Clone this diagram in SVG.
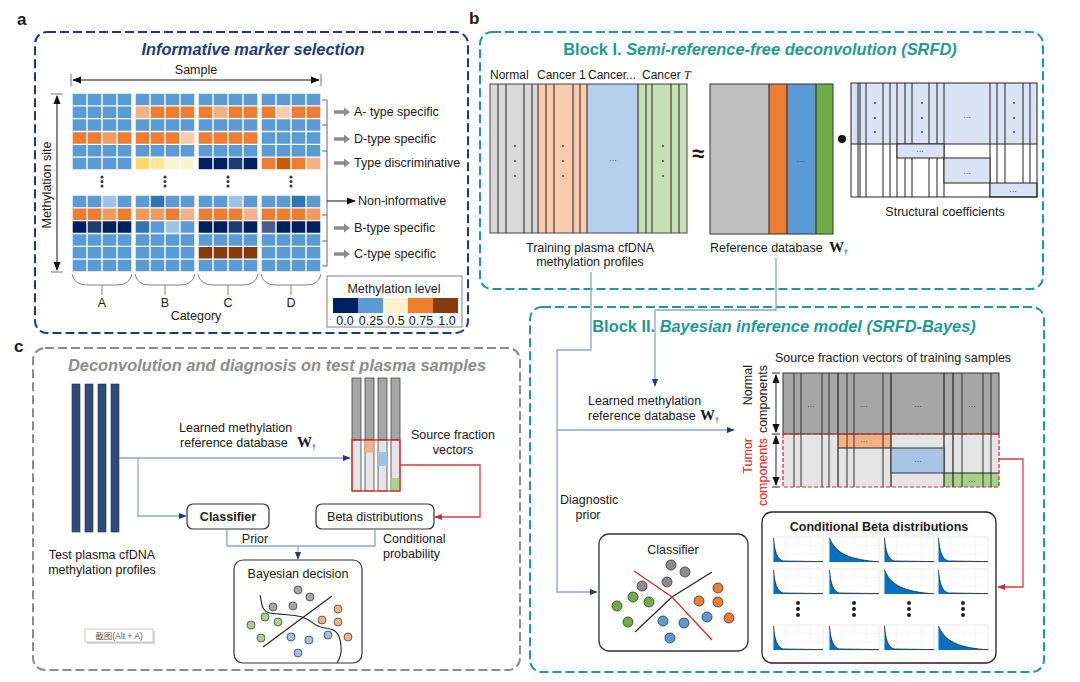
<svg xmlns="http://www.w3.org/2000/svg" xmlns:xlink="http://www.w3.org/1999/xlink" width="1080" height="682" viewBox="0 0 1080 682">
<style>
text{font-family:'Liberation Sans',Arial,'Noto Sans CJK SC',sans-serif;fill:#1a1a1a}
.f12{font-size:12.5px}
.f11{font-size:12px}
.mid{text-anchor:middle}
.bold{font-weight:bold}
.ttl{font-size:16.4px;font-weight:bold}
.teal{fill:#1E9A93}
.wt{font-family:'Liberation Serif','Times New Roman',serif;font-weight:bold;font-size:15px}
.dag{font-size:8px;font-weight:normal}
.conn{fill:none;stroke:#8EA5CC;stroke-width:1.3}
.red{fill:none;stroke:#E03A3A;stroke-width:1.3}
.ln{stroke:#222;stroke-width:1}
.dots{fill:#333}
.cg{fill:#8C8C8C;stroke:#333;stroke-width:0.8}
.cgr{fill:#70AD47;stroke:#333;stroke-width:0.8}
.cb{fill:#5B9BD5;stroke:#333;stroke-width:0.8}
.co{fill:#ED7D31;stroke:#333;stroke-width:0.8}
.lg{fill:#A6A6A6;stroke:#444;stroke-width:0.8}
.lgr{fill:#A9D18E;stroke:#444;stroke-width:0.8}
.lb{fill:#9DC3E6;stroke:#444;stroke-width:0.8}
.lo{fill:#F4B183;stroke:#444;stroke-width:0.8}
</style>
<defs>
<marker id="an" viewBox="0 0 10 10" refX="9" refY="5" markerWidth="8" markerHeight="8" markerUnits="userSpaceOnUse" orient="auto"><path d="M0,1 L10,5 L0,9 z" fill="#1F3A7A"/></marker>
<marker id="ar" viewBox="0 0 10 10" refX="9" refY="5" markerWidth="8" markerHeight="8" markerUnits="userSpaceOnUse" orient="auto"><path d="M0,1 L10,5 L0,9 z" fill="#D42A2A"/></marker>
<marker id="ak" viewBox="0 0 10 10" refX="9" refY="5" markerWidth="9" markerHeight="9" markerUnits="userSpaceOnUse" orient="auto-start-reverse"><path d="M0,1 L10,5 L0,9 z" fill="#111"/></marker>
<path id="garrow" d="M0,-1.8 L10,-1.8 L10,-4.5 L16,0 L10,4.5 L10,1.8 L0,1.8 Z" fill="#8C8C8C"/>
<symbol id="bf" viewBox="0 0 50 25" overflow="visible">
<rect x="0" y="0" width="50" height="25" fill="#fff" stroke="#D9D9D9" stroke-width="0.6"/>
<path d="M12.5 0V25M25 0V25M37.5 0V25M0 8.3H50M0 16.6H50" stroke="#EEEEEE" stroke-width="0.5"/>
<path d="M0.5 1 C1.5 14 4 22 10 24 L50 24.6 L50 25 L0.5 25Z" fill="#0070C0"/>
<path d="M0.5 1 C1.5 14 4 22 10 24 L50 24.6" fill="none" stroke="#222" stroke-width="0.8"/>
</symbol>
<symbol id="bs" viewBox="0 0 50 25" overflow="visible">
<rect x="0" y="0" width="50" height="25" fill="#fff" stroke="#D9D9D9" stroke-width="0.6"/>
<path d="M12.5 0V25M25 0V25M37.5 0V25M0 8.3H50M0 16.6H50" stroke="#EEEEEE" stroke-width="0.5"/>
<path d="M0.5 1 C6 14 16 22 46 24.5 L50 24.7 L50 25 L0.5 25Z" fill="#0070C0"/>
<path d="M0.5 1 C6 14 16 22 46 24.5 L50 24.7" fill="none" stroke="#222" stroke-width="0.8"/>
</symbol>
</defs>
<rect width="1080" height="682" fill="#fff"/>

<!-- panel labels -->
<text x="17" y="25" class="bold" font-size="17">a</text>
<text x="469" y="24" class="bold" font-size="17">b</text>
<text x="14" y="352" class="bold" font-size="17">c</text>

<!-- ========== Panel a ========== -->
<g id="panel-a">
<rect x="35" y="32" width="433" height="301" rx="12" fill="none" stroke="#1F3A7A" stroke-width="2" stroke-dasharray="9 4"/>
<text x="253" y="55" class="mid ttl" font-style="italic" style="fill:#1F3A7A">Informative marker selection</text>
<text x="196" y="74" class="mid f12">Sample</text>
<line x1="73" y1="80" x2="319" y2="80" stroke="#111" stroke-width="1" marker-start="url(#ak)" marker-end="url(#ak)"/>
<path d="M71 74V86M321 74V86" stroke="#777" stroke-width="1"/>
<line x1="57" y1="96" x2="57" y2="270" stroke="#111" stroke-width="1" marker-start="url(#ak)" marker-end="url(#ak)"/>
<path d="M51 94H63M51 272H63" stroke="#777" stroke-width="1"/>
<text x="51" y="185" class="mid f12" transform="rotate(-90 51 185)">Methylation site</text>

<g id="heatmap">
<g fill="#5B9BD5">
<rect x="72" y="93" width="60" height="77"/><rect x="135" y="93" width="60" height="77"/><rect x="198" y="93" width="60" height="77"/><rect x="261" y="93" width="60" height="77"/>
<rect x="72" y="195" width="60" height="77"/><rect x="135" y="195" width="60" height="77"/><rect x="198" y="195" width="60" height="77"/><rect x="261" y="195" width="60" height="77"/>
</g>
<g fill="#ED7D31">
<rect x="135" y="105.83" width="60" height="12.84"/><rect x="198" y="105.83" width="60" height="12.84"/><rect x="261" y="105.83" width="60" height="12.84"/>
<rect x="72" y="131.5" width="60" height="12.84"/><rect x="135" y="131.5" width="60" height="12.84"/><rect x="198" y="131.5" width="60" height="12.84"/>
<rect x="261" y="157.17" width="60" height="12.83"/>
<rect x="72" y="207.83" width="60" height="12.84"/><rect x="135" y="207.83" width="60" height="12.84"/><rect x="198" y="207.83" width="60" height="12.84"/><rect x="261" y="207.83" width="60" height="12.84"/>
</g>
<rect x="135" y="105.83" width="15" height="12.84" fill="#F4B183"/>
<rect x="213" y="105.83" width="15" height="12.84" fill="#F4B183"/>
<rect x="276" y="105.83" width="15" height="12.84" fill="#F8CBAD"/>
<rect x="102" y="131.5" width="15" height="12.84" fill="#F19A5B"/>
<rect x="180" y="131.5" width="15" height="12.84" fill="#F8CBAD"/>
<rect x="135" y="157.17" width="15" height="12.83" fill="#FFD966"/>
<rect x="150" y="157.17" width="15" height="12.83" fill="#FFE699"/>
<rect x="165" y="157.17" width="30" height="12.83" fill="#FFF2CC"/>
<rect x="198" y="157.17" width="60" height="12.83" fill="#002060"/>
<rect x="228" y="157.17" width="15" height="12.83" fill="#1F3B73"/>
<rect x="276" y="157.17" width="15" height="12.83" fill="#C55A11"/>
<rect x="306" y="157.17" width="15" height="12.83" fill="#F4B183"/>
<rect x="102" y="195" width="15" height="12.83" fill="#9DC3E6"/>
<rect x="150" y="195" width="15" height="12.83" fill="#2E75B6"/>
<rect x="228" y="195" width="15" height="12.83" fill="#9DC3E6"/>
<rect x="291" y="195" width="15" height="12.83" fill="#2E75B6"/>
<rect x="102" y="207.83" width="15" height="12.84" fill="#F19A5B"/>
<rect x="135" y="207.83" width="30" height="12.84" fill="#F19A5B"/>
<rect x="180" y="207.83" width="15" height="12.84" fill="#F4B183"/>
<rect x="243" y="207.83" width="15" height="12.84" fill="#F4B183"/>
<rect x="306" y="207.83" width="15" height="12.84" fill="#F19A5B"/>
<rect x="72" y="220.67" width="60" height="12.83" fill="#002060"/>
<rect x="87" y="220.67" width="15" height="12.83" fill="#1F3B73"/>
<rect x="135" y="220.67" width="15" height="12.83" fill="#2E75B6"/>
<rect x="165" y="220.67" width="15" height="12.83" fill="#9DC3E6"/>
<rect x="198" y="220.67" width="60" height="12.83" fill="#002060"/>
<rect x="228" y="220.67" width="15" height="12.83" fill="#1F3B73"/>
<rect x="261" y="220.67" width="60" height="12.83" fill="#002060"/>
<rect x="261" y="220.67" width="15" height="12.83" fill="#4A5C8C"/>
<rect x="198" y="246.33" width="60" height="12.84" fill="#843C0C"/>
<path d="M72 93V170M87 93V170M102 93V170M117 93V170M132 93V170M135 93V170M150 93V170M165 93V170M180 93V170M195 93V170M198 93V170M213 93V170M228 93V170M243 93V170M258 93V170M261 93V170M276 93V170M291 93V170M306 93V170M321 93V170M72 195V272M87 195V272M102 195V272M117 195V272M132 195V272M135 195V272M150 195V272M165 195V272M180 195V272M195 195V272M198 195V272M213 195V272M228 195V272M243 195V272M258 195V272M261 195V272M276 195V272M291 195V272M306 195V272M321 195V272M72 93H321M72 105.83H321M72 118.67H321M72 131.5H321M72 144.33H321M72 157.17H321M72 170H321M72 195H321M72 207.83H321M72 220.67H321M72 233.5H321M72 246.33H321M72 259.17H321M72 272H321" stroke="#fff" stroke-width="1.4" fill="none"/>
<g class="dots">
<circle cx="102" cy="177" r="1.5"/><circle cx="102" cy="181.5" r="1.5"/><circle cx="102" cy="186" r="1.5"/>
<circle cx="165" cy="177" r="1.5"/><circle cx="165" cy="181.5" r="1.5"/><circle cx="165" cy="186" r="1.5"/>
<circle cx="228" cy="177" r="1.5"/><circle cx="228" cy="181.5" r="1.5"/><circle cx="228" cy="186" r="1.5"/>
<circle cx="291" cy="177" r="1.5"/><circle cx="291" cy="181.5" r="1.5"/><circle cx="291" cy="186" r="1.5"/>
</g>
</g>

<path d="M72 274Q74 285 87 285H117Q130 285 132 274M102 285V295M135 274Q137 285 150 285H180Q193 285 195 274M165 285V295M198 274Q200 285 213 285H243Q256 285 258 274M228 285V295M261 274Q263 285 276 285H306Q319 285 321 274M291 285V295" fill="none" stroke="#808080" stroke-width="1"/>
<text x="102" y="307" class="mid f12">A</text>
<text x="165" y="307" class="mid f12">B</text>
<text x="228" y="307" class="mid f12">C</text>
<text x="291" y="307" class="mid f12">D</text>
<text x="196" y="320" class="mid f12">Category</text>

<path d="M322 100H327V266H322M322 125H327M322 151H327M322 215H327M322 241H327" fill="none" stroke="#666" stroke-width="1"/>
<line x1="327" y1="201" x2="355" y2="201" stroke="#111" stroke-width="1" marker-end="url(#ak)"/>
<use href="#garrow" x="334" y="112"/>
<use href="#garrow" x="334" y="139"/>
<use href="#garrow" x="334" y="163"/>
<use href="#garrow" x="334" y="228"/>
<use href="#garrow" x="334" y="254"/>
<text x="354" y="116" class="f12">A- type specific</text>
<text x="354" y="143" class="f12">D-type specific</text>
<text x="354" y="167" class="f12">Type discriminative</text>
<text x="358" y="205" class="f12">Non-informative</text>
<text x="354" y="232" class="f12">B-type specific</text>
<text x="354" y="258" class="f12">C-type specific</text>

<g id="legend">
<rect x="327" y="276" width="135" height="51" fill="#fff" stroke="#808080" stroke-width="1"/>
<text x="394" y="293" class="mid f12">Methylation level</text>
<rect x="333" y="298" width="25" height="15" fill="#002060"/>
<rect x="358" y="298" width="25" height="15" fill="#5B9BD5"/>
<rect x="383" y="298" width="25" height="15" fill="#FFF2CC"/>
<rect x="408" y="298" width="25" height="15" fill="#ED7D31"/>
<rect x="433" y="298" width="25" height="15" fill="#843C0C"/>
<text x="345" y="325" class="mid f12">0.0</text>
<text x="371" y="325" class="mid f12">0.25</text>
<text x="396" y="325" class="mid f12">0.5</text>
<text x="421" y="325" class="mid f12">0.75</text>
<text x="447" y="325" class="mid f12">1.0</text>
</g>
</g>

<!-- ========== Block I ========== -->
<g id="block-1">
<rect x="480" y="32" width="563" height="257" rx="12" fill="none" stroke="#1E9A93" stroke-width="2" stroke-dasharray="9 4"/>
<text x="760" y="55" class="mid ttl teal">Block I. <tspan font-style="italic">Semi-reference-free deconvolution (SRFD)</tspan></text>
<text x="490" y="79" class="f11">Normal</text>
<text x="537" y="79" class="f11">Cancer 1</text>
<text x="588" y="79" class="f11">Cancer...</text>
<text x="642" y="79" class="f11">Cancer <tspan font-family="'Liberation Serif',serif" font-style="italic">T</tspan></text>
</g>
<g id="training-matrix">
<rect x="490" y="84" width="48" height="149" fill="#D9D9D9"/>
<rect x="538" y="84" width="49" height="149" fill="#F8CBAD"/>
<rect x="587" y="84" width="51" height="149" fill="#B4CFEC"/>
<rect x="638" y="84" width="49" height="149" fill="#C5E0B4"/>
<path d="M498 84V233M506 84V233M524 84V233M532 84V233M538 84V233M546 84V233M554 84V233M573 84V233M580 84V233M587 84V233M638 84V233M646 84V233M652 84V233M671 84V233M679 84V233" class="ln"/>
<rect x="490" y="84" width="197" height="149" fill="none" stroke="#444" stroke-width="1"/>
<g class="dots">
<circle cx="515" cy="146" r="0.9"/><circle cx="515" cy="161" r="0.9"/><circle cx="515" cy="176" r="0.9"/>
<circle cx="563" cy="146" r="0.9"/><circle cx="563" cy="161" r="0.9"/><circle cx="563" cy="176" r="0.9"/>
<circle cx="663" cy="146" r="0.9"/><circle cx="663" cy="161" r="0.9"/><circle cx="663" cy="176" r="0.9"/>
</g>
<text x="613" y="163" class="mid" font-size="8">···</text>
<text x="590" y="252" class="mid f12">Training plasma cfDNA</text>
<text x="590" y="266" class="mid f12">methylation profiles</text>
</g>
<text x="698" y="161" class="mid bold" font-size="22">≈</text>
<g id="reference-db">
<rect x="710" y="84" width="59" height="150" fill="#BFBFBF"/>
<rect x="769" y="84" width="18" height="150" fill="#ED7D31"/>
<rect x="787" y="84" width="29" height="150" fill="#5B9BD5"/>
<rect x="816" y="84" width="17" height="150" fill="#70AD47"/>
<path d="M769 84V234M787 84V234M816 84V234" class="ln"/>
<rect x="710" y="84" width="123" height="150" fill="none" stroke="#333" stroke-width="1"/>
<text x="801" y="164" class="mid" font-size="8">···</text>
<text x="710" y="252" class="f12">Reference database</text>
<text x="829" y="252" class="wt">W<tspan class="dag" dy="3">†</tspan></text>
</g>
<circle cx="842" cy="139" r="4" fill="#111"/>
<g id="structural-coefficients">
<rect x="851" y="83" width="186" height="61" fill="#DAE3F3"/>
<path d="M858 83V197M860 83V197M866 83V197M883 83V197M890 83V197M897 83V197M905 83V197M912 83V197M929 83V197M937 83V197M944 83V197M990 83V197M997 83V197M1005 83V197M1023 83V197M1030 83V197M851 144H1037" class="ln"/>
<rect x="897" y="144" width="47" height="14" fill="#DAE3F3" stroke="#222" stroke-width="1"/>
<rect x="944" y="158" width="46" height="25" fill="#DAE3F3" stroke="#222" stroke-width="1"/>
<rect x="990" y="183" width="47" height="14" fill="#DAE3F3" stroke="#222" stroke-width="1"/>
<rect x="851" y="83" width="186" height="114" fill="none" stroke="#222" stroke-width="1"/>
<g class="dots">
<circle cx="875" cy="103" r="0.9"/><circle cx="875" cy="118" r="0.9"/><circle cx="875" cy="132" r="0.9"/>
<circle cx="922" cy="103" r="0.9"/><circle cx="922" cy="118" r="0.9"/><circle cx="922" cy="132" r="0.9"/>
<circle cx="1014" cy="103" r="0.9"/><circle cx="1014" cy="118" r="0.9"/><circle cx="1014" cy="132" r="0.9"/>
</g>
<text x="967" y="120" class="mid" font-size="8">···</text>
<text x="920" y="154" class="mid" font-size="8">···</text>
<text x="967" y="176" class="mid" font-size="8">···</text>
<text x="1013" y="194" class="mid" font-size="8">···</text>
<text x="945" y="216" class="mid f12">Structural coefficients</text>
</g>

<!-- ========== Block II ========== -->
<g id="block-2">
<rect x="530" y="307" width="514" height="365" rx="12" fill="none" stroke="#1E9A93" stroke-width="2" stroke-dasharray="9 4"/>
<text x="784" y="332" class="mid ttl teal">Block II. <tspan font-style="italic">Bayesian inference model  (SRFD-Bayes)</tspan></text>
<text x="588" y="405" class="f12">Learned methylation</text>
<text x="588" y="420" class="f12">reference database</text>
<text x="700" y="420" class="wt">W<tspan class="dag" dy="3">†</tspan></text>
<text x="560" y="504" class="f12">Diagnostic</text>
<text x="588" y="519" class="mid f12">prior</text>
<text x="893" y="362" class="mid f12">Source fraction vectors of training samples</text>
</g>
<g id="source-fraction-matrix">
<rect x="783" y="373" width="216" height="61" fill="#A6A6A6"/>
<rect x="783" y="434" width="216" height="53" fill="#E4E4E4"/>
<rect x="838" y="434" width="53" height="14" fill="#F4B183"/>
<rect x="944" y="473" width="55" height="14" fill="#A9D18E"/>
<path d="M794 373V487M801 373V487M822 373V487M829 373V487M847 373V487M854 373V487M883 373V487M962 373V487M983 373V487M991 373V487" stroke="#333" stroke-width="1"/>
<path d="M838 373V487M891 373V487M944 373V487M953 373V487M838 448H891M944 473H999M838 434V448" stroke="#222" stroke-width="1.2" fill="none"/>
<rect x="891" y="448" width="53" height="25" fill="#A9C4E4" stroke="#333" stroke-width="1"/>
<rect x="783" y="373" width="216" height="61" fill="none" stroke="#333" stroke-width="1"/>
<rect x="783" y="434" width="216" height="53" fill="none" stroke="#E02020" stroke-width="1.2" stroke-dasharray="4 2"/>
<text x="811" y="409" class="mid" font-size="8">···</text>
<text x="864" y="409" class="mid" font-size="8">···</text>
<text x="918" y="409" class="mid" font-size="8">···</text>
<text x="972" y="409" class="mid" font-size="8">···</text>
<text x="864" y="444" class="mid" font-size="8">···</text>
<text x="918" y="464" class="mid" font-size="8">···</text>
<text x="972" y="484" class="mid" font-size="8">···</text>
<path d="M772 373H780M772 434H780M772 487H780" stroke="#222" stroke-width="1"/>
<line x1="776" y1="375" x2="776" y2="432" stroke="#222" stroke-width="1" marker-start="url(#ak)" marker-end="url(#ak)"/>
<line x1="776" y1="436" x2="776" y2="485" stroke="#222" stroke-width="1" marker-start="url(#ak)" marker-end="url(#ak)"/>
<text x="752" y="365" class="f12" text-anchor="end" transform="rotate(-90 752 365)">Normal</text>
<text x="767" y="365" class="f12" text-anchor="end" transform="rotate(-90 767 365)">components</text>
<text x="752" y="438" class="f12" text-anchor="end" transform="rotate(-90 752 438)" style="fill:#E02020">Tumor</text>
<text x="767" y="438" class="f12" text-anchor="end" transform="rotate(-90 767 438)" style="fill:#E02020">components</text>
</g>
<g id="classifier-2">
<rect x="599" y="534" width="149" height="117" rx="10" fill="#fff" stroke="#333" stroke-width="1.3"/>
<text x="673" y="554" class="mid f12">Classifier</text>
<path d="M635 632L672 597L712 572" fill="none" stroke="#222" stroke-width="1.2"/>
<path d="M634 571L672 597L712 640" fill="none" stroke="#D42A2A" stroke-width="1.2"/>
<circle cx="671" cy="565" r="5" class="cg"/><circle cx="685" cy="572" r="5" class="cg"/><circle cx="642" cy="586" r="5" class="cg"/><circle cx="667" cy="582" r="5" class="cg"/>
<circle cx="633" cy="597" r="5" class="cgr"/><circle cx="649" cy="602" r="5" class="cgr"/><circle cx="617" cy="606" r="5" class="cgr"/><circle cx="628" cy="622" r="5" class="cgr"/>
<circle cx="663" cy="621" r="5" class="cb"/><circle cx="684" cy="623" r="5" class="cb"/><circle cx="707" cy="617" r="5" class="cb"/><circle cx="670" cy="638" r="5" class="cb"/>
<circle cx="718" cy="588" r="5" class="co"/><circle cx="699" cy="601" r="5" class="co"/><circle cx="718" cy="602" r="5" class="co"/><circle cx="729" cy="618" r="5" class="co"/>
</g>
<g id="beta-distributions">
<rect x="762" y="512" width="234" height="151" rx="10" fill="#fff" stroke="#222" stroke-width="1.3"/>
<text x="879" y="531" class="mid f12 bold">Conditional Beta distributions</text>
<use href="#bf" x="773" y="537" width="50" height="25"/>
<use href="#bs" x="829" y="537" width="50" height="25"/>
<use href="#bf" x="884" y="537" width="50" height="25"/>
<use href="#bf" x="938" y="537" width="50" height="25"/>
<use href="#bf" x="773" y="569" width="50" height="25"/>
<use href="#bf" x="829" y="569" width="50" height="25"/>
<use href="#bs" x="884" y="569" width="50" height="25"/>
<use href="#bf" x="938" y="569" width="50" height="25"/>
<use href="#bf" x="773" y="625" width="50" height="25"/>
<use href="#bf" x="829" y="625" width="50" height="25"/>
<use href="#bf" x="884" y="625" width="50" height="25"/>
<use href="#bs" x="938" y="625" width="50" height="25"/>
<g fill="#222">
<circle cx="798" cy="603" r="2"/><circle cx="798" cy="609" r="2"/><circle cx="798" cy="615" r="2"/>
<circle cx="854" cy="603" r="2"/><circle cx="854" cy="609" r="2"/><circle cx="854" cy="615" r="2"/>
<circle cx="909" cy="603" r="2"/><circle cx="909" cy="609" r="2"/><circle cx="909" cy="615" r="2"/>
<circle cx="963" cy="603" r="2"/><circle cx="963" cy="609" r="2"/><circle cx="963" cy="615" r="2"/>
</g>
</g>

<!-- ========== Panel c ========== -->
<g id="panel-c">
<rect x="33" y="348" width="487" height="322" rx="12" fill="none" stroke="#8C8C8C" stroke-width="2" stroke-dasharray="9 4"/>
<text x="277" y="371" class="mid ttl" font-style="italic" style="fill:#8C8C8C">Deconvolution and diagnosis on test plasma samples</text>
</g>
<g id="test-profiles">
<rect x="72" y="384" width="8" height="148" fill="#2F4B7C" stroke="#1F2F50" stroke-width="0.6"/>
<rect x="85" y="384" width="8" height="148" fill="#2F4B7C" stroke="#1F2F50" stroke-width="0.6"/>
<rect x="98" y="384" width="8" height="148" fill="#2F4B7C" stroke="#1F2F50" stroke-width="0.6"/>
<rect x="111" y="384" width="8" height="148" fill="#2F4B7C" stroke="#1F2F50" stroke-width="0.6"/>
<text x="102" y="559" class="mid f12">Test plasma cfDNA</text>
<text x="102" y="574" class="mid f12">methylation profiles</text>
</g>
<text x="179" y="432" class="f12">Learned methylation</text>
<text x="180" y="447" class="f12">reference database</text>
<text x="297" y="447" class="wt">W<tspan class="dag" dy="3">†</tspan></text>
<g id="source-fraction-c">
<rect x="352" y="378" width="9" height="62" fill="#A6A6A6" stroke="#444" stroke-width="0.8"/>
<rect x="365" y="378" width="9" height="62" fill="#A6A6A6" stroke="#444" stroke-width="0.8"/>
<rect x="378" y="378" width="9" height="62" fill="#A6A6A6" stroke="#444" stroke-width="0.8"/>
<rect x="391" y="378" width="9" height="62" fill="#A6A6A6" stroke="#444" stroke-width="0.8"/>
<rect x="352" y="440" width="9" height="51" fill="#E4E4E4" stroke="#444" stroke-width="0.8"/>
<rect x="365" y="440" width="9" height="51" fill="#E4E4E4" stroke="#444" stroke-width="0.8"/>
<rect x="378" y="440" width="9" height="51" fill="#E4E4E4" stroke="#444" stroke-width="0.8"/>
<rect x="391" y="440" width="9" height="51" fill="#E4E4E4" stroke="#444" stroke-width="0.8"/>
<rect x="365.4" y="440.4" width="8.2" height="12" fill="#F4B183"/>
<rect x="378.4" y="452" width="8.2" height="14" fill="#9DC3E6"/>
<rect x="391.4" y="478" width="8.2" height="12.6" fill="#A9D18E"/>
<rect x="352" y="440" width="48" height="51" fill="none" stroke="#E02020" stroke-width="1.2"/>
<text x="453" y="439" class="mid f12">Source fraction</text>
<text x="453" y="454" class="mid f12">vectors</text>
</g>
<g id="classifier-c">
<rect x="187" y="504" width="82" height="25" rx="6" fill="#fff" stroke="#333" stroke-width="1.2"/>
<text x="228" y="521" class="mid f12 bold">Classifier</text>
</g>
<g id="beta-c">
<rect x="316" y="504" width="118" height="25" rx="6" fill="#fff" stroke="#333" stroke-width="1.2"/>
<text x="375" y="521" class="mid f12">Beta distributions</text>
</g>
<text x="255" y="543" class="mid f12">Prior</text>
<text x="383" y="543" class="f12">Conditional</text>
<text x="383" y="558" class="f12">probability</text>
<g id="bayesian-decision">
<rect x="234" y="560" width="128" height="103" rx="9" fill="#fff" stroke="#333" stroke-width="1.2"/>
<text x="298" y="578" class="mid f12">Bayesian decision</text>
<path d="M263 647L332 596" fill="none" stroke="#222" stroke-width="1.1"/>
<path d="M260 595C262 603 261 611 270 613C282 615 292 614 302 617C312 620 314 627 325 628C338 629 340 636 341 646C342 655 339 660 337 663" fill="none" stroke="#222" stroke-width="1.1"/>
<circle cx="298" cy="590" r="4" class="lg"/><circle cx="310" cy="597" r="4" class="lg"/><circle cx="273" cy="607" r="4" class="lg"/><circle cx="293" cy="606" r="4" class="lg"/>
<circle cx="265" cy="617" r="4" class="lgr"/><circle cx="278" cy="622" r="4" class="lgr"/><circle cx="251" cy="625" r="4" class="lgr"/><circle cx="261" cy="638" r="4" class="lgr"/>
<circle cx="291" cy="637" r="4" class="lb"/><circle cx="309" cy="640" r="4" class="lb"/><circle cx="328" cy="635" r="4" class="lb"/><circle cx="298" cy="653" r="4" class="lb"/>
<circle cx="338" cy="609" r="4" class="lo"/><circle cx="322" cy="620" r="4" class="lo"/><circle cx="338" cy="622" r="4" class="lo"/><circle cx="348" cy="637" r="4" class="lo"/>
</g>
<g id="screenshot-tag">
<rect x="87" y="631" width="68" height="13" fill="#D9D9D9"/>
<rect x="85" y="629" width="68" height="13" fill="#fff" stroke="#BFBFBF" stroke-width="0.8"/>
<text x="119" y="639" class="mid" font-size="8.5" style="fill:#595959">截图(Alt + A)</text>
</g>

<!-- ========== Connectors ========== -->
<g id="connectors">
<path d="M591 272V350H557V592H597" class="conn" marker-end="url(#an)"/>
<path d="M557 430H734" class="conn" marker-end="url(#an)"/>
<path d="M776 258V310H655V386" class="conn" marker-end="url(#an)"/>
<path d="M999 459H1023V587H998" class="red" marker-end="url(#ar)"/>
<path d="M119 458H350" class="conn" marker-end="url(#an)"/>
<path d="M138 458V516H186" class="conn" marker-end="url(#an)"/>
<path d="M400 465H480V517H435" class="red" marker-end="url(#ar)"/>
<path d="M227 529V546H375V529" class="conn"/>
<path d="M298 546V559" class="conn" marker-end="url(#an)"/>
</g>
</svg>
